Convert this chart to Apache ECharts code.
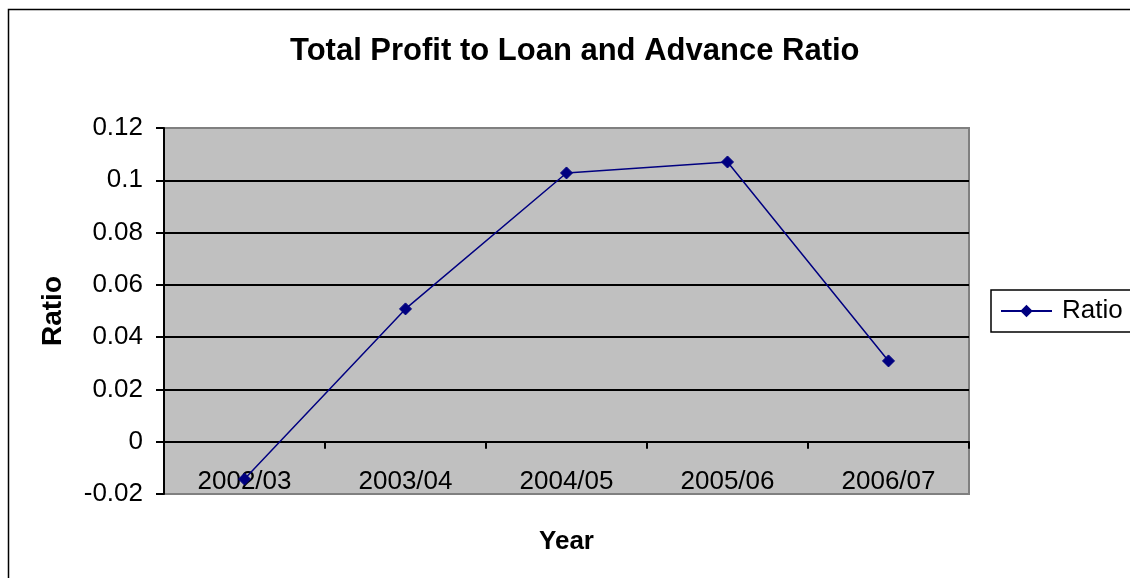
<!DOCTYPE html>
<html>
<head>
<meta charset="utf-8">
<title>Total Profit to Loan and Advance Ratio</title>
<script src="https://cdn.jsdelivr.net/npm/echarts@6/dist/echarts.min.js"></script>
<style>
  html, body { margin: 0; padding: 0; background: #ffffff; }
  #chart { width: 1130px; height: 578px; }
</style>
</head>
<body>
<div id="chart"></div>
<script>
// Fiscal years and the profit-to-loan-and-advance ratio for each
const years = ['2002/03', '2003/04', '2004/05', '2005/06', '2006/07'];
const ratio = [-0.0143, 0.0508, 0.1028, 0.107, 0.0309];
const seriesName = 'Ratio';

const yMin = -0.02;
const yMax = 0.12;
const yStep = 0.02;

const font = 'Liberation Sans, Arial, sans-serif';

const chart = echarts.init(document.getElementById('chart'), null, { renderer: 'canvas' });

chart.setOption({
  backgroundColor: '#ffffff',
  animation: false,
  textStyle: { fontFamily: font },
  title: {
    text: 'Total Profit to Loan and Advance Ratio',
    left: 290,
    top: 36,
    padding: 0,
    textStyle: { fontFamily: font, fontSize: 31, fontWeight: 'bold', color: '#000' }
  },
  graphic: [{
    type: 'rect',
    shape: { x: 8.5, y: 9.5, width: 1200, height: 700 },
    style: { fill: 'none', stroke: '#000', lineWidth: 1.5 },
    silent: true,
    z: -1
  }],
  legend: {
    left: 991,
    top: 290,
    orient: 'vertical',
    data: [seriesName],
    borderColor: '#000',
    borderWidth: 1.5,
    padding: [8, 9, 8, 9],
    itemWidth: 51,
    itemHeight: 12,
    textStyle: { fontFamily: font, fontSize: 26, color: '#000', padding: [0, 0, 0, 5] }
  },
  grid: {
    left: 164,
    top: 128,
    right: 161,
    bottom: 84,
    outerBoundsMode: 'none',
    containLabel: false,
    show: true,
    backgroundColor: '#C0C0C0',
    borderColor: '#808080',
    borderWidth: 2
  },
  xAxis: {
    type: 'category',
    data: years,
    boundaryGap: true,
    name: 'Year',
    nameLocation: 'middle',
    nameGap: 35,
    nameMoveOverlap: false,
    nameTextStyle: { fontFamily: font, fontSize: 26, fontWeight: 'bold', color: '#000' },
    axisLine: { onZero: true, lineStyle: { color: '#000', width: 2 } },
    axisTick: { show: true, inside: false, length: 7, alignWithLabel: false, lineStyle: { color: '#000', width: 2 } },
    axisLabel: { fontFamily: font, fontSize: 26, color: '#000', margin: -25 },
    splitLine: { show: false }
  },
  yAxis: {
    type: 'value',
    min: yMin,
    max: yMax,
    interval: yStep,
    name: 'Ratio',
    nameLocation: 'middle',
    nameGap: 97,
    nameRotate: 90,
    nameTextStyle: { fontFamily: font, fontSize: 28, fontWeight: 'bold', color: '#000' },
    axisLine: { show: true, onZero: false, lineStyle: { color: '#000', width: 2 } },
    axisTick: { show: true, inside: false, length: 8, lineStyle: { color: '#000', width: 2 } },
    axisLabel: {
      fontFamily: font,
      fontSize: 26,
      color: '#000',
      margin: 21,
      formatter: v => String(+v.toFixed(2))
    },
    splitLine: { show: true, showMinLine: false, showMaxLine: false, lineStyle: { color: '#000', width: 2 } }
  },
  series: [{
    name: seriesName,
    type: 'line',
    data: ratio,
    symbol: 'diamond',
    symbolSize: 12,
    showAllSymbol: true,
    lineStyle: { color: '#000080', width: 1.5 },
    itemStyle: { color: '#000080', borderColor: '#000080', borderWidth: 1 },
    z: 5
  }]
});
</script>
</body>
</html>
